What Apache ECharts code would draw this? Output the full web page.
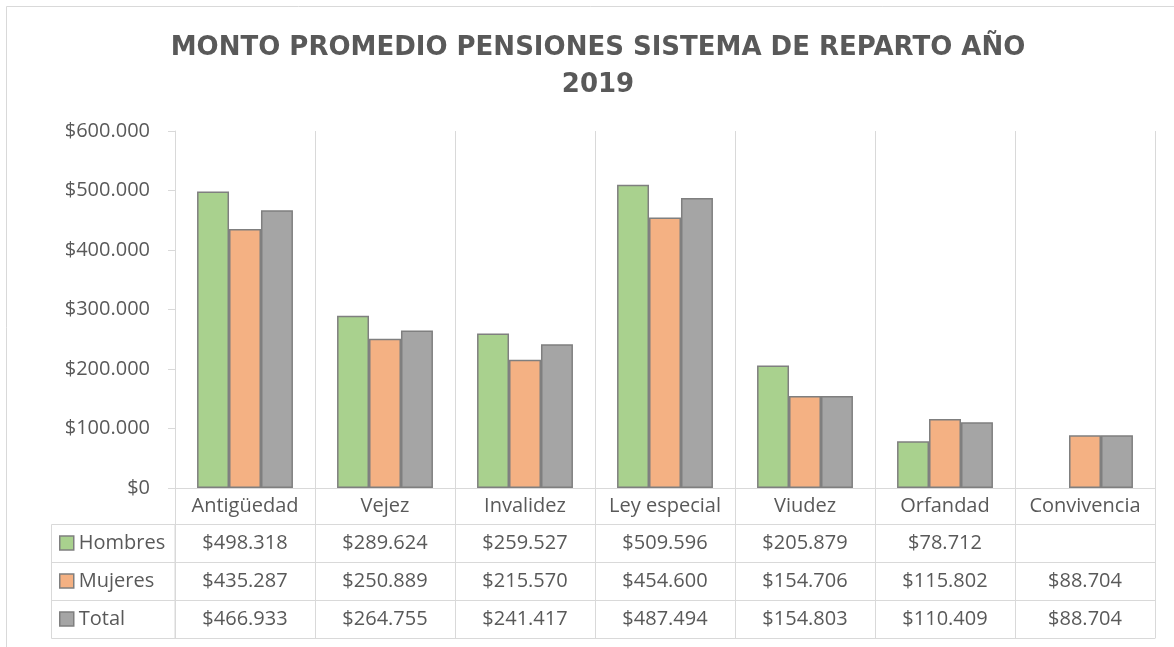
<!DOCTYPE html>
<html>
<head>
<meta charset="utf-8">
<script src="https://cdn.jsdelivr.net/npm/echarts@6/dist/echarts.min.js"></script>
<style>
html,body{margin:0;padding:0;background:#fff;}
#chart{width:1174px;height:647px;}
</style>
</head>
<body>
<div id="chart"></div>
<script>
const categories = ['Antigüedad', 'Vejez', 'Invalidez', 'Ley especial', 'Viudez', 'Orfandad', 'Convivencia'];
const seriesNames = ['Hombres', 'Mujeres', 'Total'];
const hombres = [498318, 289624, 259527, 509596, 205879, 78712, null];
const mujeres = [435287, 250889, 215570, 454600, 154706, 115802, 88704];
const total = [466933, 264755, 241417, 487494, 154803, 110409, 88704];
const yTicks = [0, 100000, 200000, 300000, 400000, 500000, 600000];
const titleText = 'MONTO PROMEDIO PENSIONES SISTEMA DE REPARTO AÑO\n2019';

const seriesData = [hombres, mujeres, total];
const colors = ['#a9d18e', '#f4b183', '#a5a5a5'];
const textColor = '#595959';
const lineColor = '#d9d9d9';
const font = 'Open Sans';

function money(v) {
  if (v === null || v === undefined) return '';
  return '$' + String(Math.round(v)).replace(/\B(?=(\d{3})+(?!\d))/g, '.');
}

const chart = echarts.init(document.getElementById('chart'), null, {renderer: 'canvas'});

const gridLeft = 175, gridRight = 19, gridTop = 131, gridBottom = 159;
const rowH = 38, firstRow = 36;

const xAxes = [{
  type: 'category',
  data: categories,
  position: 'bottom',
  gridIndex: 0,
  axisLine: {show: true, lineStyle: {color: lineColor, width: 1}},
  axisTick: {show: true, interval: 0, length: firstRow + rowH * 3, lineStyle: {color: lineColor, width: 1}},
  splitLine: {show: true, interval: 0, lineStyle: {color: lineColor, width: 1}},
  axisLabel: {interval: 0, margin: 8, color: textColor, fontFamily: font, fontSize: 20, lineHeight: 20}
}];
seriesData.forEach((arr, k) => {
  xAxes.push({
    type: 'category',
    data: categories,
    position: 'bottom',
    offset: firstRow + rowH * k,
    axisLine: {show: true, lineStyle: {color: lineColor, width: 1}},
    axisTick: {show: false},
    splitLine: {show: false},
    axisLabel: {
      interval: 0, margin: 9, color: textColor, fontFamily: font, fontSize: 20, lineHeight: 20,
      formatter: (val, idx) => money(arr[idx])
    }
  });
});
xAxes.push({
  type: 'category',
  data: categories,
  position: 'bottom',
  offset: firstRow + rowH * 3,
  axisLine: {show: true, lineStyle: {color: lineColor, width: 1}},
  axisTick: {show: false},
  axisLabel: {show: false},
  splitLine: {show: false}
});

const option = {
  animation: false,
  backgroundColor: '#ffffff',
  title: {
    text: titleText,
    left: 593,
    top: 25,
    textAlign: 'center',
    textStyle: {
      color: textColor, fontFamily: 'DejaVu Sans', fontWeight: 'bold',
      fontSize: 26, lineHeight: 36.5
    }
  },
  legend: {
    orient: 'vertical',
    left: 59,
    top: 533,
    padding: 0,
    itemWidth: 14,
    itemHeight: 14,
    itemGap: 18,
    icon: 'rect',
    data: seriesNames,
    textStyle: {color: textColor, fontFamily: font, fontSize: 20, lineHeight: 20, padding: [0, 0, 0, 0]},
    itemStyle: {borderColor: '#7f7f7f', borderWidth: 1.5}
  },
  grid: {left: gridLeft, right: gridRight, top: gridTop, bottom: gridBottom, containLabel: false},
  xAxis: xAxes,
  yAxis: {
    type: 'value',
    min: yTicks[0],
    max: yTicks[yTicks.length - 1],
    interval: yTicks[1] - yTicks[0],
    axisLine: {show: true, lineStyle: {color: lineColor, width: 1}},
    axisTick: {show: true, length: 7, lineStyle: {color: lineColor, width: 1}},
    splitLine: {show: false},
    axisLabel: {margin: 25, color: textColor, fontFamily: font, fontSize: 20, formatter: v => money(v)}
  },
  graphic: [
    {type: 'rect', silent: true, z: -10, shape: {x: 6.5, y: 6.5, width: 1200, height: 700},
      style: {fill: 'none', stroke: lineColor, lineWidth: 1}},
    {type: 'rect', silent: true, shape: {x: 51.5, y: 524.5, width: 123.5, height: 114},
      style: {fill: 'none', stroke: lineColor, lineWidth: 1}},
    {type: 'line', silent: true, shape: {x1: 51.5, y1: 562.5, x2: 175, y2: 562.5},
      style: {stroke: lineColor, lineWidth: 1}},
    {type: 'line', silent: true, shape: {x1: 51.5, y1: 600.5, x2: 175, y2: 600.5},
      style: {stroke: lineColor, lineWidth: 1}}
  ],
  series: seriesNames.map((name, k) => ({
    name: name,
    type: 'bar',
    xAxisIndex: 0,
    data: seriesData[k],
    barGap: '0%',
    barCategoryGap: '31.5%',
    itemStyle: {color: colors[k], borderColor: '#7f7f7f', borderWidth: 1.5}
  }))
};
chart.setOption(option);
</script>
</body>
</html>
